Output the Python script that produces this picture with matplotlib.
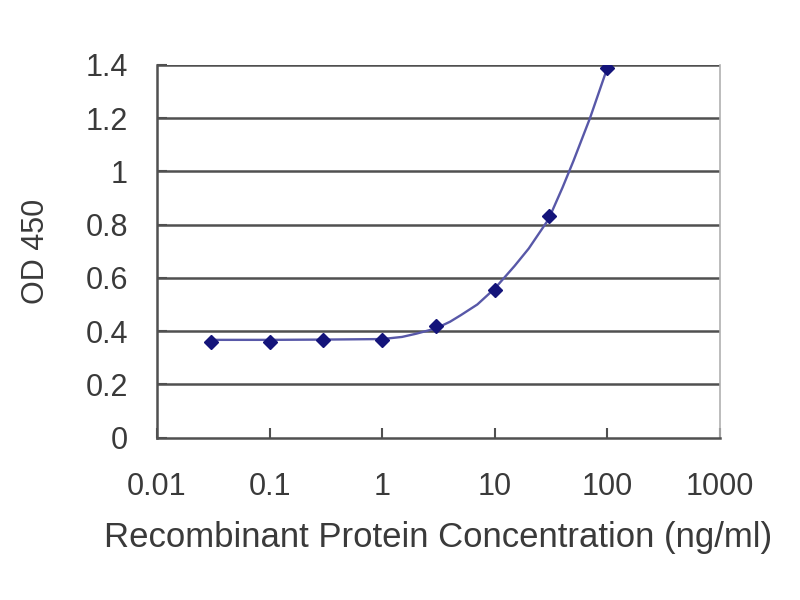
import matplotlib
matplotlib.use("Agg")
import matplotlib.pyplot as plt

# measured points
conc = [0.03, 0.1, 0.3, 1, 3, 10, 30, 100]
od = [0.360, 0.360, 0.368, 0.368, 0.418, 0.555, 0.833, 1.39]

# fitted curve
curve_x = [0.03, 0.1, 0.3, 1, 1.5, 2, 3, 4, 5, 7, 10, 15, 20, 30, 40, 50, 70, 100]
curve_y = [0.367, 0.367, 0.368, 0.370, 0.378, 0.390, 0.410, 0.435, 0.460, 0.500,
           0.560, 0.645, 0.710, 0.820, 0.940, 1.040, 1.200, 1.390]

xticks = [0.01, 0.1, 1, 10, 100, 1000]
xticklabels = ["0.01", "0.1", "1", "10", "100", "1000"]
yticks = [0, 0.2, 0.4, 0.6, 0.8, 1, 1.2, 1.4]
yticklabels = ["0", "0.2", "0.4", "0.6", "0.8", "1", "1.2", "1.4"]

plt.rcParams['font.family'] = ['Liberation Sans', 'DejaVu Sans']

fig = plt.figure(figsize=(8, 6), dpi=100)
ax = fig.add_axes([157/800, 1 - 437.5/600, (720-157)/800, (437.5-65)/600])

ax.set_xscale('log')
ax.set_xlim(0.01, 1000)
ax.set_ylim(0, 1.4)

for y in yticks[1:]:
    ax.axhline(y, color='#505050', lw=1.8, zorder=1)

ax.plot(curve_x, curve_y, color='#5858a8', lw=1.7, zorder=2)
ax.plot(conc, od, linestyle='none', marker='D', markersize=7.5,
        color='#14147a', zorder=3)

ax.set_xticks(xticks)
ax.set_xticklabels(xticklabels)
ax.minorticks_off()
ax.set_yticks(yticks)
ax.set_yticklabels(yticklabels)

ax.tick_params(axis='x', direction='in', length=7, width=1.5, color='#505050',
               labelsize=22, pad=25, labelcolor='#3a3a3a')
ax.tick_params(axis='y', direction='in', length=7, width=1.5, color='#505050',
               labelsize=22, pad=21, labelcolor='#3a3a3a')

for s in ['left', 'bottom']:
    ax.spines[s].set_color('#505050')
    ax.spines[s].set_linewidth(1.8)
ax.spines['top'].set_visible(False)
ax.spines['right'].set_color('#b0b0b0')
ax.spines['right'].set_linewidth(1.2)

ax.set_xlabel('Recombinant Protein Concentration (ng/ml)', fontsize=25,
              color='#3a3a3a', va='center')
ax.xaxis.set_label_coords(0.5, -0.268)
ax.set_ylabel('OD 450', fontsize=22, color='#3a3a3a', va='center')
ax.yaxis.set_label_coords(-0.215, 0.5)

fig.savefig('out.png', dpi=100)
